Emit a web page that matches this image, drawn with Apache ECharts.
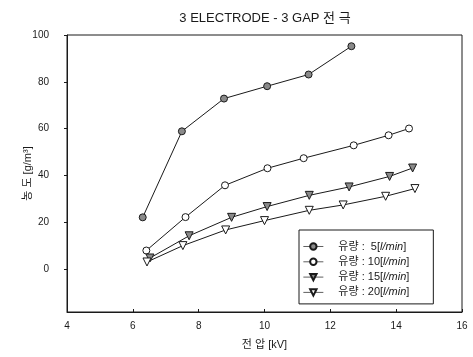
<!DOCTYPE html>
<html>
<head>
<meta charset="utf-8">
<script src="https://cdn.jsdelivr.net/npm/echarts@6/dist/echarts.min.js"></script>
<style>
  html, body { margin: 0; padding: 0; background: #fff; }
  #chart { width: 473px; height: 357px; }
</style>
</head>
<body>
<div id="chart"></div>
<script>
// Voltage [kV] and concentration [g/m3] for each flow rate
const v5  = [6.30, 7.49, 8.77, 10.08, 11.34, 12.64];
const c5  = [22.0, 58.8, 72.8, 78.1, 83.1, 95.2];
const v10 = [6.41, 7.60, 8.80, 10.09, 11.19, 12.71, 13.77, 14.39];
const c10 = [7.8, 22.1, 35.7, 43.0, 47.3, 52.8, 57.1, 60.0];
const v15 = [6.52, 7.71, 9.00, 10.08, 11.36, 12.57, 13.80, 14.50];
const c15 = [4.6, 14.1, 22.0, 26.6, 31.4, 35.0, 39.5, 43.1];
const v20 = [6.43, 7.52, 8.82, 10.00, 11.36, 12.39, 13.68, 14.57];
const c20 = [2.9, 9.9, 16.6, 20.6, 25.0, 27.3, 31.0, 34.3];

const seriesNames = ['유량 :  5[l/min]', '유량 : 10[l/min]', '유량 : 15[l/min]', '유량 : 20[l/min]'];
const xTicks = [4, 6, 8, 10, 12, 14, 16];
const yTicks = [0, 20, 40, 60, 80, 100];

const zip = (xs, ys) => xs.map((x, i) => [x, ys[i]]);

const FONT = '"Liberation Sans", Arial, "Noto Sans CJK KR", sans-serif';
const ink = '#1a1a1a';

function lineSeries(name, data, symbol, fill, rotate) {
  return {
    name: name,
    type: 'line',
    data: data,
    symbol: symbol,
    symbolSize: symbol === 'circle' ? 7 : 8,
    symbolRotate: rotate || 0,
    showAllSymbol: true,
    lineStyle: { color: ink, width: 1 },
    itemStyle: { color: fill, borderColor: ink, borderWidth: 1 },
    emphasis: { disabled: true },
    animation: false
  };
}

const chart = echarts.init(document.getElementById('chart'), null, { renderer: 'canvas' });
chart.setOption({
  backgroundColor: '#fff',
  animation: false,
  title: {
    text: '3 ELECTRODE - 3 GAP 전 극',
    left: 260,
    textAlign: 'center',
    top: 7,
    textStyle: { fontFamily: FONT, fontSize: 13, fontWeight: 'normal', color: ink }
  },
  grid: {
    left: 67, right: 11, top: 35, bottom: 45,
    show: true, borderColor: ink, borderWidth: 1, backgroundColor: 'transparent'
  },
  legend: {
    orient: 'vertical',
    left: 299,
    top: 230,
    padding: [11, 24, 6, 4],
    backgroundColor: '#fff',
    borderColor: ink,
    borderWidth: 1,
    borderRadius: 0,
    itemWidth: 20,
    itemHeight: 8,
    itemGap: 4.3,
    lineStyle: { width: 0.7, color: ink },
    data: seriesNames,
    formatter: function (n) {
      const m = n.match(/^(.*\[)(l\/min)(\])$/);
      return m ? m[1] + '{i|' + m[2] + '}' + m[3] : n;
    },
    textStyle: {
      fontFamily: FONT, fontSize: 11, color: ink, padding: [0, 0, 0, 10],
      rich: { i: { fontFamily: FONT, fontSize: 11, fontStyle: 'italic', color: ink } }
    }
  },
  xAxis: {
    type: 'value',
    min: 4, max: 16, interval: 2,
    name: '전 압 [kV]',
    nameLocation: 'middle',
    nameGap: 27,
    nameMoveOverlap: false,
    nameTextStyle: { fontFamily: FONT, fontSize: 11, color: ink },
    axisLine: { show: true, onZero: false, lineStyle: { color: ink, width: 1 } },
    axisTick: { show: true, inside: true, length: 3, lineStyle: { color: ink } },
    axisLabel: {
      fontFamily: FONT, fontSize: 10, color: ink, margin: 9,
      customValues: xTicks
    },
    splitLine: { show: false }
  },
  yAxis: {
    type: 'value',
    min: -18.5, max: 100,
    name: '농 도 [g/m³]',
    nameLocation: 'middle',
    nameGap: 34,
    nameRotate: 90,
    nameMoveOverlap: false,
    nameTextStyle: { fontFamily: FONT, fontSize: 11, color: ink },
    axisLine: { show: true, onZero: false, lineStyle: { color: ink, width: 1 } },
    axisTick: { show: true, inside: false, length: 3, lineStyle: { color: ink }, customValues: yTicks },
    axisLabel: {
      fontFamily: FONT, fontSize: 10, color: ink, margin: 18,
      customValues: yTicks
    },
    splitLine: { show: false }
  },
  series: [
    lineSeries(seriesNames[0], zip(v5, c5), 'circle', '#8a8a8a'),
    lineSeries(seriesNames[1], zip(v10, c10), 'circle', '#ffffff'),
    lineSeries(seriesNames[2], zip(v15, c15), 'triangle', '#8a8a8a', 180),
    lineSeries(seriesNames[3], zip(v20, c20), 'triangle', '#ffffff', 180)
  ]
});
</script>
</body>
</html>
